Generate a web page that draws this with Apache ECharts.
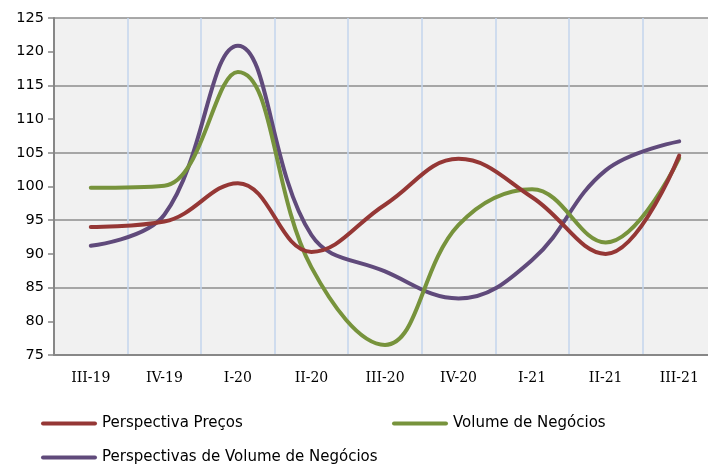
<!DOCTYPE html>
<html><head><meta charset="utf-8">
<script src="https://cdn.jsdelivr.net/npm/echarts@6/dist/echarts.min.js"></script>
<style>html,body{margin:0;padding:0;background:#fff}#c{width:708px;height:466px}</style>
</head><body><div id="c"></div>
<script>
const categories = ['III-19','IV-19','I-20','II-20','III-20','IV-20','I-21','II-21','III-21'];
const yTicks = [75, 125, 5];
const precos = [94.0, 94.8, 100.5, 90.3, 97.3, 104.1, 98.4, 90.0, 104.6];
const volume = [99.8, 100.1, 117.0, 88.0, 76.5, 94.3, 99.6, 91.7, 104.2];
const perspVolume = [91.2, 95.8, 120.9, 92.8, 87.4, 83.4, 89.1, 102.4, 106.7];
const names = ['Perspectiva Preços','Volume de Negócios','Perspectivas de Volume de Negócios'];
const colors = ['#953735','#77933c','#604a7b'];

const chart = echarts.init(document.getElementById('c'), null, {renderer:'canvas'});
const legendFont = {fontFamily:"'DejaVu Sans',sans-serif", fontSize:15, color:'#000'};
const legendIcon = 'path://M2,0 L54,0 A2,2 0 0 1 54,4 L2,4 A2,2 0 0 1 2,0 Z';
function lg(i, left, top){
  return {data:[names[i]], left:left, top:top, icon:legendIcon, itemWidth:56, itemHeight:4.5, itemGap:4,
    textStyle:legendFont, selectedMode:false, padding:0};
}
chart.setOption({
  animation:false,
  color: colors,
  legend:[lg(0,41,416), lg(1,392,416), lg(2,41,450)],
  grid:{left:54, top:18, width:662, height:337, outerBoundsMode:'none', containLabel:false,
    show:true, backgroundColor:'#f1f1f1', borderWidth:0},
  xAxis:{type:'category', data:categories, boundaryGap:true,
    axisLine:{lineStyle:{color:'#878787', width:2}},
    axisTick:{show:false},
    axisLabel:{color:'#000', fontFamily:"'DejaVu Serif',serif", fontSize:14, margin:16, interval:0},
    splitLine:{show:true, interval:0, lineStyle:{color:'#c3d4ec', width:1.5}}
  },
  yAxis:[{type:'value', min:yTicks[0], max:yTicks[1], interval:yTicks[2],
    axisLine:{show:true, lineStyle:{color:'#878787', width:2}},
    axisTick:{show:true, length:6, lineStyle:{color:'#878787', width:1.5}},
    axisLabel:{color:'#000', fontFamily:"'DejaVu Sans',sans-serif", fontSize:14.5, margin:10},
    splitLine:{show:false}
  },{type:'value', min:yTicks[0], max:yTicks[1], interval:10, show:true,
    axisLine:{show:false}, axisTick:{show:false}, axisLabel:{show:false},
    splitLine:{show:true, lineStyle:{color:'#8c8c8c', width:1.5}}
  }],
  series:[precos, volume, perspVolume].map((d,i)=>({
    name:names[i], type:'line', data:d, smooth:0.4, symbol:'none', z: 3-i,
    lineStyle:{width:4, color:colors[i], cap:'round'}
  }))
});
</script></body></html>
